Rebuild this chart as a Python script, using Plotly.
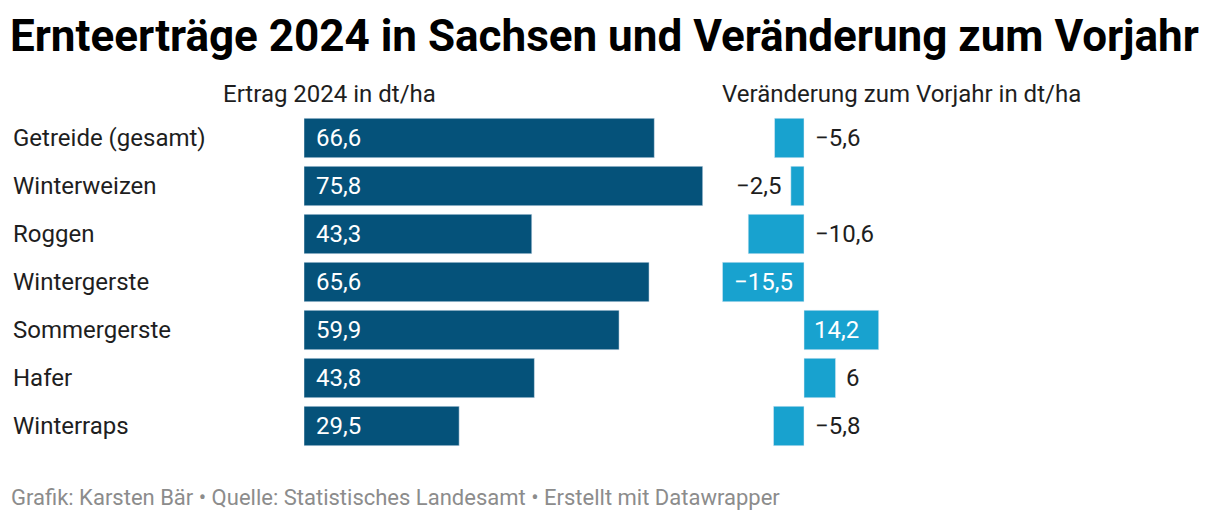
import plotly.graph_objects as go

categories = ["Getreide (gesamt)", "Winterweizen", "Roggen", "Wintergerste",
              "Sommergerste", "Hafer", "Winterraps"]
ertrag_2024 = [66.6, 75.8, 43.3, 65.6, 59.9, 43.8, 29.5]
veraenderung = [-5.6, -2.5, -10.6, -15.5, 14.2, 6.0, -5.8]
label_pos = ["zero", "outside", "zero", "inside", "inside", "outside", "zero"]

title = "Ernteerträge 2024 in Sachsen und Veränderung zum Vorjahr"
header_left = "Ertrag 2024 in dt/ha"
header_right = "Veränderung zum Vorjahr in dt/ha"
footer = "Grafik: Karsten Bär • Quelle: Statistisches Landesamt • Erstellt mit Datawrapper"

OFF = 8  # page body margin
W, H = 1220 - 2 * OFF, 522 - 2 * OFF
PX = 5.26  # pixels per unit
DARK = "#05527a"
LIGHT = "#18a2cf"
FONT = "Roboto"
FS = 24


def px(x):
    return (x - OFF) / W


def py(y):
    return 1 - (y - OFF) / H


def fmt(v):
    s = str(int(abs(v))) if float(v).is_integer() else "%.1f" % abs(v)
    s = s.replace(".", ",")
    return ("\u2212" + s) if v < 0 else s


idx = list(range(len(categories)))
fig = go.Figure()
fig.add_trace(go.Bar(x=ertrag_2024, y=idx, orientation="h", marker_color=DARK,
                     width=0.82, xaxis="x", yaxis="y", hoverinfo="skip"))
fig.add_trace(go.Bar(x=veraenderung, y=idx, orientation="h", marker_color=LIGHT,
                     width=0.82, xaxis="x2", yaxis="y", hoverinfo="skip"))

left0 = 304
lrange = [0, 76]
l_end = left0 + (lrange[1] - lrange[0]) * PX
zero2 = 804
rrange = [-16, 16]
r_start = zero2 + rrange[0] * PX
r_end = zero2 + rrange[1] * PX

ann = []
for i, (c, v, d, p) in enumerate(zip(categories, ertrag_2024, veraenderung, label_pos)):
    ann.append(dict(text=c, x=px(10.5), xref="paper", y=i, yref="y", xanchor="left",
                    showarrow=False, font=dict(family=FONT, size=FS, color="#1e1e1e")))
    ann.append(dict(text=fmt(v), x=0, xref="x", y=i, yref="y", xanchor="left", xshift=10,
                    showarrow=False, font=dict(family=FONT, size=FS, color="white")))
    if p == "zero":
        a = dict(x=0, xanchor="left", xshift=8.5, color="#1e1e1e")
    elif p == "outside":
        if d >= 0:
            a = dict(x=d, xanchor="left", xshift=8.5, color="#1e1e1e")
        else:
            a = dict(x=d, xanchor="right", xshift=-7.5, color="#1e1e1e")
    else:
        if d >= 0:
            a = dict(x=0, xanchor="left", xshift=8, color="white")
        else:
            a = dict(x=0, xanchor="right", xshift=-9, color="white")
    ann.append(dict(text=fmt(d), x=a["x"], xref="x2", y=i, yref="y", xanchor=a["xanchor"],
                    xshift=a["xshift"], showarrow=False,
                    font=dict(family=FONT, size=FS, color=a["color"])))

ann.append(dict(text="<b>" + title + "</b>", x=px(8), xref="paper", y=py(36), yref="paper",
                xanchor="left", yanchor="middle", showarrow=False,
                font=dict(family=FONT, size=44, color="#000000")))
ann.append(dict(text=header_left, x=px(330), xref="paper", y=py(94), yref="paper",
                xanchor="center", yanchor="middle", showarrow=False,
                font=dict(family=FONT, size=FS, color="#1e1e1e")))
ann.append(dict(text=header_right, x=px(901), xref="paper", y=py(94), yref="paper",
                xanchor="center", yanchor="middle", showarrow=False,
                font=dict(family=FONT, size=FS, color="#1e1e1e")))
ann.append(dict(text=footer, x=px(9), xref="paper", y=py(497), yref="paper",
                xanchor="left", yanchor="middle", showarrow=False,
                font=dict(family=FONT, size=22, color="#8c8c8c")))

fig.update_layout(
    width=W, height=H, margin=dict(l=0, r=0, t=0, b=0),
    paper_bgcolor="white", plot_bgcolor="white", showlegend=False,
    barmode="overlay",
    xaxis=dict(domain=[px(left0), px(l_end)], range=lrange, visible=False, fixedrange=True),
    xaxis2=dict(domain=[px(r_start), px(r_end)], range=rrange, visible=False, anchor="y",
                fixedrange=True),
    yaxis=dict(domain=[py(450), py(114)], range=[6.5, -0.5], visible=False,
               fixedrange=True),
    annotations=ann,
)

fig.write_html("out.html", config={"displayModeBar": False})
